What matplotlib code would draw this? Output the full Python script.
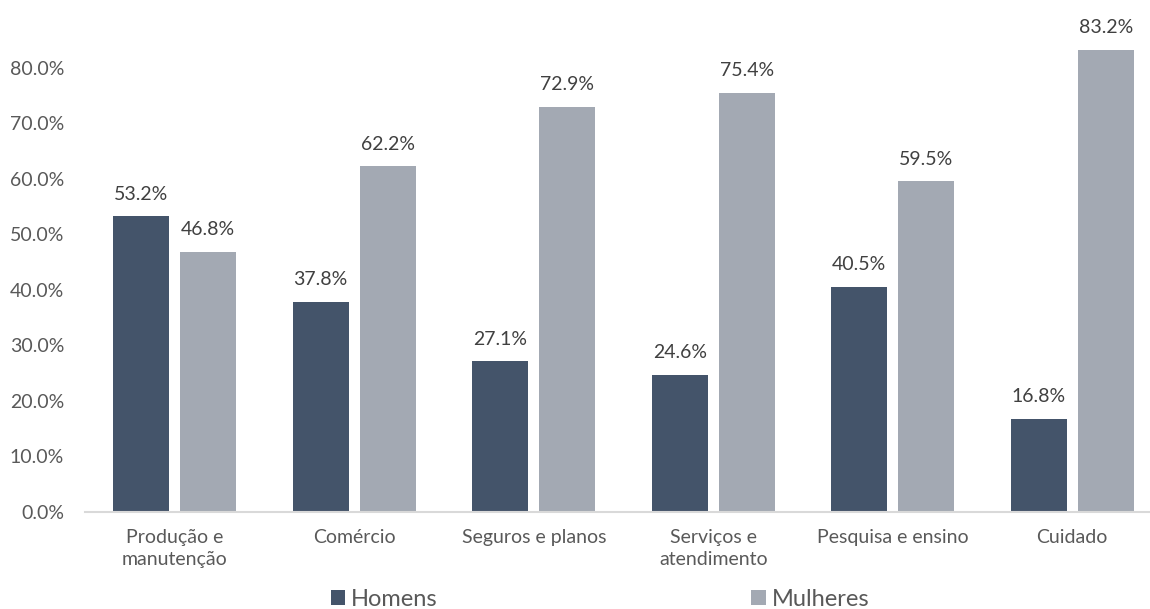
import matplotlib.pyplot as plt
import numpy as np

plt.rcParams['font.family'] = ['Lato', 'DejaVu Sans']

# Data
categories = ['Produção e\nmanutenção', 'Comércio', 'Seguros e planos',
              'Serviços e\natendimento', 'Pesquisa e ensino', 'Cuidado']
homens = [53.2, 37.8, 27.1, 24.6, 40.5, 16.8]
mulheres = [46.8, 62.2, 72.9, 75.4, 59.5, 83.2]
yticks = [0, 10, 20, 30, 40, 50, 60, 70, 80]

dark = '#44546A'
light = '#A3A9B3'
txt = '#595959'

fig = plt.figure(figsize=(11.5, 6.09), dpi=100)
ax = fig.add_axes([85 / 1150, 97 / 609, 1077 / 1150, 500 / 609])

x = np.arange(len(categories))
w = 0.312
b1 = ax.bar(x - 0.187, homens, w, color=dark, label='Homens')
b2 = ax.bar(x + 0.187, mulheres, w, color=light, label='Mulheres')

for bars, vals in [(b1, homens), (b2, mulheres)]:
    for rect, v in zip(bars, vals):
        ax.annotate(f'{v:.1f}%', (rect.get_x() + rect.get_width() / 2, v),
                    xytext=(0, 10), textcoords='offset points',
                    ha='center', va='bottom', fontsize=14, color='#404040')

ax.set_xlim(-0.5, 5.5)
ax.set_ylim(0, 90)
ax.set_yticks(yticks)
ax.set_yticklabels([f'{t:.1f}%' for t in yticks])
ax.set_xticks(x)
ax.set_xticklabels(categories, fontsize=14, color=txt, linespacing=1.35)
ax.tick_params(axis='y', length=0, labelsize=14, labelcolor=txt, pad=15)
ax.tick_params(axis='x', length=0, pad=12)

for s in ['top', 'right', 'left']:
    ax.spines[s].set_visible(False)
ax.spines['bottom'].set_color('#D9D9D9')
ax.spines['bottom'].set_linewidth(1.5)

fig.legend(handles=[b1, b2], loc='center', bbox_to_anchor=(0.5217, 10 / 609),
           ncol=2, frameon=False, fontsize=17, labelcolor=txt, borderpad=0,
           handlelength=0.6, handleheight=0.6, handletextpad=0.25,
           columnspacing=13.3)

fig.savefig('out.png', dpi=100)
